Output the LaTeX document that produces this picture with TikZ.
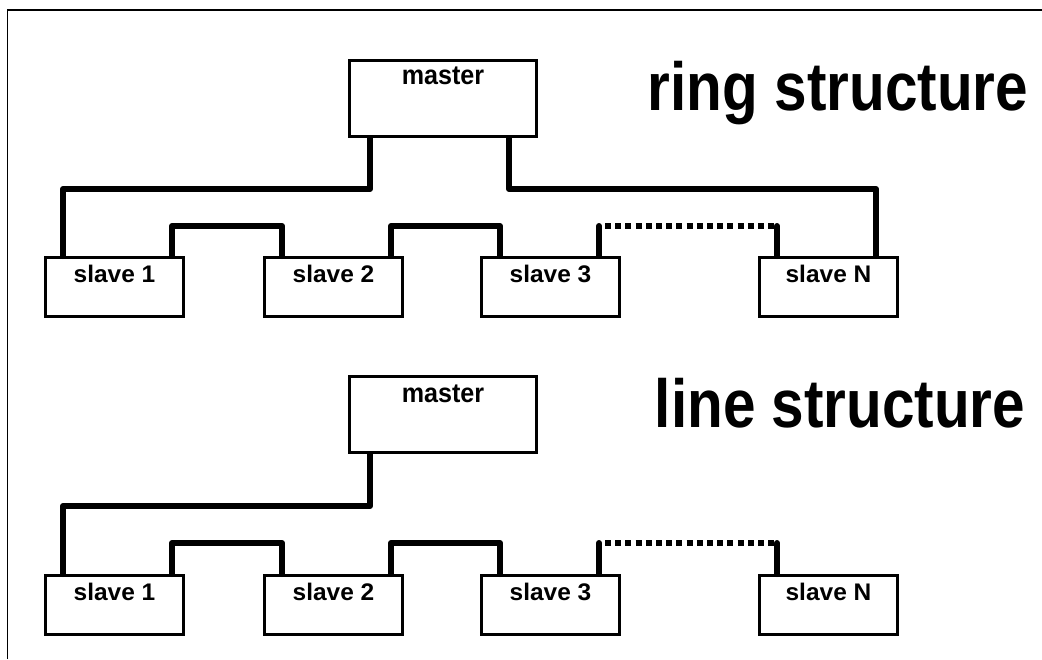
\documentclass[tikz,border=0pt]{standalone}
\usepackage{fontspec}
\setmainfont{Liberation Sans}
\newcommand\SlaveLbl[1]{\scalebox{1.02}[1]{#1}}
\newcommand\MasterLbl[1]{\scalebox{0.93}[1]{#1}}
\newcommand\TitleLbl[1]{\scalebox{0.86}[1]{#1}}
\tikzset{
  slavebox/.style={draw, line width=3pt, minimum width=138pt, minimum height=59pt, anchor=north west, inner sep=0pt},
  masterbox/.style={draw, line width=3pt, minimum width=187pt, minimum height=76pt, anchor=north west, inner sep=0pt},
  wire/.style={line width=6pt, line join=round, line cap=round},
  dotwire/.style={line width=6pt, line cap=butt, dash pattern=on 6pt off 4.2pt},
  slavetxt/.style={anchor=base, inner sep=0pt, font=\bfseries\fontsize{24}{24}\selectfont},
  mastertxt/.style={anchor=base, inner sep=0pt, font=\bfseries\fontsize{27}{27}\selectfont},
  titletxt/.style={anchor=base, inner sep=0pt, font=\bfseries\fontsize{68}{68}\selectfont},
}
\begin{document}
\begin{tikzpicture}[x=1pt,y=-1pt]
\useasboundingbox (0,0) rectangle (1042,659);
\draw[line width=1.4pt] (7.7,659) -- (7.7,10) -- (1042,10);

% ---------- ring structure ----------
\node[masterbox] (m1) at (348,59) {};
\node[mastertxt] (m1t) at ([yshift=-25.5pt]m1.north) {\MasterLbl{master}};
\node[titletxt] (t1) at (838,110) {\TitleLbl{ring structure}};
\node[slavebox] (a1) at (44,256) {};
\node[slavebox] (a2) at (263,256) {};
\node[slavebox] (a3) at (480,256) {};
\node[slavebox] (aN) at (758,256) {};
\node[slavetxt] at ([yshift=-26pt]a1.north) {\SlaveLbl{slave 1}};
\node[slavetxt] at ([yshift=-26pt]a2.north) {\SlaveLbl{slave 2}};
\node[slavetxt] at ([yshift=-26pt]a3.north) {\SlaveLbl{slave 3}};
\node[slavetxt] at ([yshift=-26pt]aN.north) {\SlaveLbl{slave N}};

\draw[wire] ([xshift=22pt]m1.south west) -- ++(0,51) -| ([xshift=19pt]a1.north west);
\draw[wire] ([xshift=161pt]m1.south west) -- ++(0,51) -| ([xshift=118pt]aN.north west);
\draw[wire] ([xshift=128pt]a1.north west) -- ++(0,-30) -| ([xshift=19pt]a2.north west);
\draw[wire] ([xshift=128pt]a2.north west) -- ++(0,-30) -| ([xshift=20pt]a3.north west);
\draw[wire] ([xshift=119pt]a3.north west) -- ++(0,-30) coordinate (ad1);
\draw[wire] ([xshift=19pt]aN.north west) -- ++(0,-30) coordinate (ad2);
\draw[dotwire] ([xshift=6pt]ad1) -- ([xshift=-3pt]ad2);

% ---------- line structure ----------
\node[masterbox] (m2) at (348,375) {};
\node[mastertxt] (m2t) at ([yshift=-27pt]m2.north) {\MasterLbl{master}};
\node[titletxt] (t2) at (840,427) {\TitleLbl{line structure}};
\node[slavebox] (b1) at (44,574) {};
\node[slavebox] (b2) at (263,574) {};
\node[slavebox] (b3) at (480,574) {};
\node[slavebox] (bN) at (758,574) {};
\node[slavetxt] at ([yshift=-26pt]b1.north) {\SlaveLbl{slave 1}};
\node[slavetxt] at ([yshift=-26pt]b2.north) {\SlaveLbl{slave 2}};
\node[slavetxt] at ([yshift=-26pt]b3.north) {\SlaveLbl{slave 3}};
\node[slavetxt] at ([yshift=-26pt]bN.north) {\SlaveLbl{slave N}};

\draw[wire] ([xshift=22pt]m2.south west) -- ++(0,52) -| ([xshift=19pt]b1.north west);
\draw[wire] ([xshift=128pt]b1.north west) -- ++(0,-31) -| ([xshift=19pt]b2.north west);
\draw[wire] ([xshift=128pt]b2.north west) -- ++(0,-31) -| ([xshift=20pt]b3.north west);
\draw[wire] ([xshift=119pt]b3.north west) -- ++(0,-31) coordinate (bd1);
\draw[wire] ([xshift=19pt]bN.north west) -- ++(0,-31) coordinate (bd2);
\draw[dotwire] ([xshift=6pt]bd1) -- ([xshift=-3pt]bd2);
\end{tikzpicture}
\end{document}
